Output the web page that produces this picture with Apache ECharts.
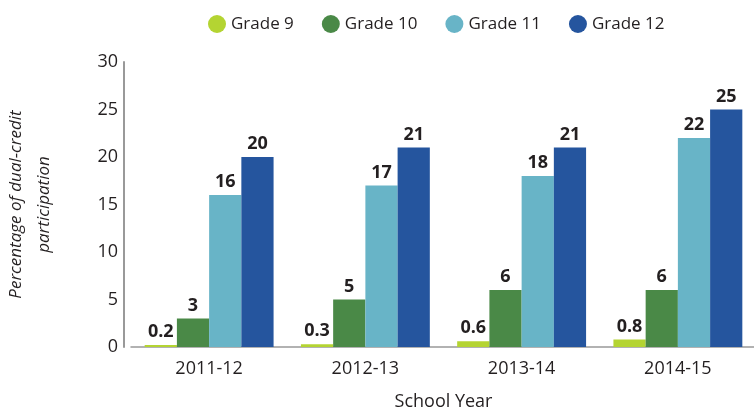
<!DOCTYPE html>
<html>
<head>
<meta charset="utf-8">
<script src="https://cdn.jsdelivr.net/npm/echarts@6/dist/echarts.min.js"></script>
<style>
  html, body { margin: 0; padding: 0; background: #ffffff; }
  #chart { width: 754px; height: 415px; }
</style>
</head>
<body>
<div id="chart"></div>
<script>
// Dual-credit participation by grade, per school year
const schoolYears = ['2011-12', '2012-13', '2013-14', '2014-15'];
const grade9  = [0.2, 0.3, 0.6, 0.8];
const grade10 = [3, 5, 6, 6];
const grade11 = [16, 17, 18, 22];
const grade12 = [20, 21, 21, 25];
const yTicks = [0, 5, 10, 15, 20, 25, 30];

const seriesDefs = [
  { name: 'Grade 9',  data: grade9,  color: '#b4d432' },
  { name: 'Grade 10', data: grade10, color: '#4a8947' },
  { name: 'Grade 11', data: grade11, color: '#68b4c7' },
  { name: 'Grade 12', data: grade12, color: '#25559e' }
];

const FONT = '"Open Sans", "Liberation Sans", sans-serif';
const INK = '#231f20';
const chart = echarts.init(document.getElementById('chart'), null, { renderer: 'canvas' });

chart.setOption({
  animation: false,
  backgroundColor: '#ffffff',
  textStyle: { fontFamily: FONT, color: INK },
  legend: {
    left: 203,
    top: 10,
    icon: 'circle',
    itemWidth: 18,
    itemHeight: 18,
    itemGap: 28,
    textStyle: { fontFamily: FONT, fontSize: 17, color: INK },
    data: seriesDefs.map(s => s.name)
  },
  grid: { left: 131, right: -2, top: 62, bottom: 68, containLabel: false, outerBoundsMode: 'none' },
  xAxis: {
    type: 'category',
    data: schoolYears,
    name: 'School Year',
    nameLocation: 'middle',
    nameGap: 46,
    nameTextStyle: { fontFamily: FONT, fontSize: 18, color: INK },
    axisLine: { lineStyle: { color: '#999999', width: 1.5 } },
    axisTick: { show: false },
    axisLabel: { fontFamily: FONT, fontSize: 18, color: INK, margin: 13 }
  },
  yAxis: {
    type: 'value',
    min: yTicks[0],
    max: yTicks[yTicks.length - 1],
    interval: yTicks[1] - yTicks[0],
    offset: 7,
    name: 'Percentage of dual-credit\nparticipation',
    nameLocation: 'middle',
    nameGap: 66,
    nameTextStyle: { fontFamily: FONT, fontSize: 17, fontStyle: 'italic', color: INK, lineHeight: 28 },
    axisLine: { show: true, lineStyle: { color: '#999999', width: 2 } },
    axisTick: { show: false },
    splitLine: { show: false },
    axisLabel: { fontFamily: FONT, fontSize: 18, color: INK, margin: 6 }
  },
  series: seriesDefs.map(s => ({
    name: s.name,
    type: 'bar',
    data: s.data,
    barGap: '0%',
    barCategoryGap: '17.5%',
    itemStyle: { color: s.color },
    label: {
      show: true,
      position: 'top',
      distance: 4,
      fontFamily: FONT,
      fontSize: 18,
      fontWeight: 'bold',
      color: INK
    }
  }))
});
</script>
</body>
</html>
